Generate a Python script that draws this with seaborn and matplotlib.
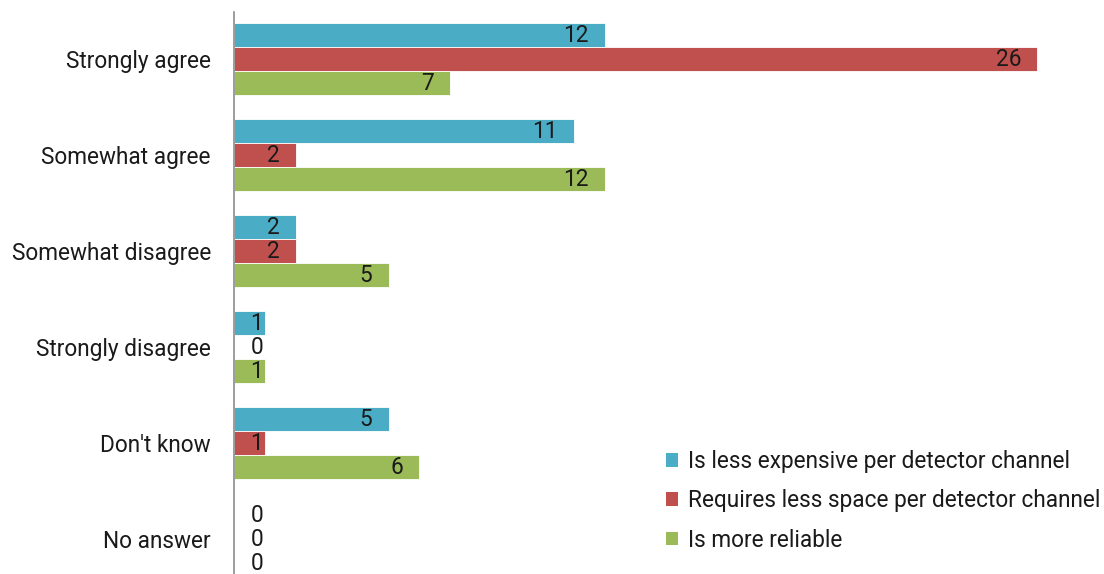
import matplotlib
matplotlib.use("Agg")
import matplotlib.pyplot as plt
import seaborn as sns
import pandas as pd
from matplotlib.patches import Patch

categories = ["Strongly agree", "Somewhat agree", "Somewhat disagree",
              "Strongly disagree", "Don't know", "No answer"]
series_names = ["Is less expensive per detector channel",
                "Requires less space per detector channel",
                "Is more reliable"]
less_expensive = [12, 11, 2, 1, 5, 0]
less_space = [26, 2, 2, 0, 1, 0]
more_reliable = [7, 12, 5, 1, 6, 0]
colors = ["#4BACC6", "#C0504D", "#9BBB59"]

series_values = [less_expensive, less_space, more_reliable]
rows = []
for name, vals in zip(series_names, series_values):
    for c, v in zip(categories, vals):
        rows.append({"category": c, "series": name, "value": v})
df = pd.DataFrame(rows)

sns.set_theme(style="white")
plt.rcParams["font.family"] = ["Roboto", "DejaVu Sans"]
FS = 16.3

W, H = 1104, 574
fig = plt.figure(figsize=(W / 100, H / 100), dpi=100)
ax_left, ax_top = 234, 12
ax = fig.add_axes([ax_left / W, 0, 1 - ax_left / W, 1 - ax_top / H])

sns.barplot(data=df, y="category", x="value", hue="series", palette=colors,
            order=categories, hue_order=series_names, width=0.75, orient="h",
            edgecolor="white", linewidth=0.6, legend=False, ax=ax, saturation=1)

xmax = (W - ax_left) / 30.9
ax.set_xlim(0, xmax)
ax.set_ylim(5.36, -0.49)
ax.set_xlabel("")
ax.set_ylabel("")
ax.set_xticks([])
for s in ["top", "right", "bottom"]:
    ax.spines[s].set_visible(False)
ax.spines["left"].set_color("#8c8c8c")
ax.spines["left"].set_linewidth(1.2)
ax.tick_params(axis="y", length=0, pad=16.6, labelsize=FS, labelcolor="#1a1a1a")

px_per_unit = (W - ax_left) / xmax
pad_u = 16 / px_per_unit
min_u = 29 / px_per_unit
for cont, vals in zip(ax.containers, series_values):
    for bar, v in zip(cont.patches, vals):
        yc = bar.get_y() + bar.get_height() / 2
        xr = max(v - pad_u, min_u)
        ax.text(xr, yc, f"{v}", ha="right", va="center", fontsize=FS,
                color="#1a1a1a")

handles = [Patch(facecolor=c, edgecolor="none") for c in colors]
fig.legend(handles, series_names, loc="upper left",
           bbox_to_anchor=(666 / W, 1 - 450 / H), frameon=False, fontsize=FS,
           handlelength=0.55, handleheight=0.55, handletextpad=0.42,
           labelspacing=0.72, borderpad=0, borderaxespad=0,
           labelcolor="#1a1a1a")

fig.savefig("out.png", dpi=100)
